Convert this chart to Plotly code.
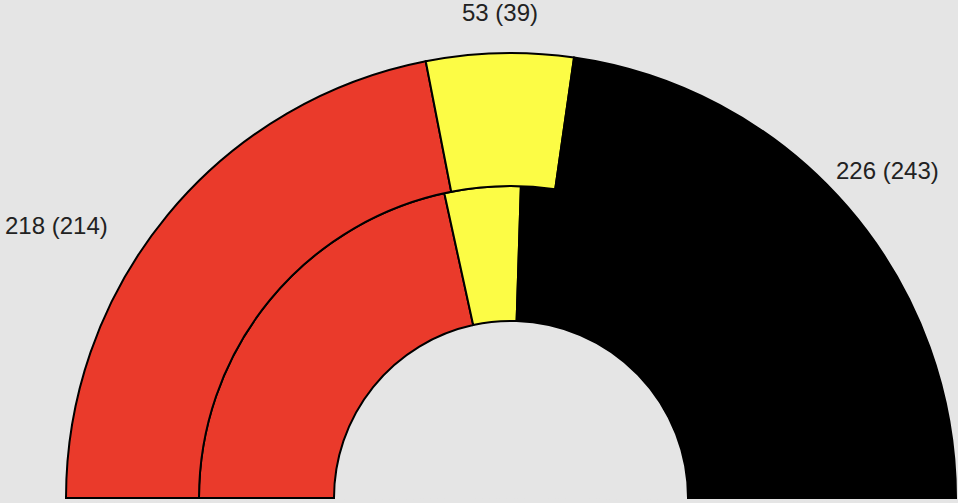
import math
import plotly.graph_objects as go

parties = ["Red", "Yellow", "Black"]
outer_seats = [218, 53, 226]
inner_seats = [214, 39, 243]
colors = ["#EA3A2B", "#FCFC45", "#000000"]

W, H = 966, 503    # slightly wider than the window; the overflow is hidden
CX, CY, R = 511, 498, 445
R_HOLE, R_MID = 177, 312
PAD = 3            # extra radial room so the outer stroke is not clipped
EXT = 0.6          # extra degrees below the horizontal so the base stroke shows


def ring(values, base, thickness):
    total = sum(values)
    widths = [v / total * 180 for v in values]
    thetas, acc = [], 0
    for w in widths:
        thetas.append(acc + w / 2)
        acc += w
    return go.Barpolar(
        theta=thetas, width=widths, r=[thickness] * len(values), base=base,
        marker=dict(color=colors, line=dict(color="#000000", width=2)),
        hoverinfo="skip", showlegend=False,
    )


fig = go.Figure()
fig.add_trace(ring(inner_seats, R_HOLE, R_MID - R_HOLE))
fig.add_trace(ring(outer_seats, R_MID, R - R_MID))

RX = R + PAD
below = RX * math.sin(math.radians(EXT))
bg = "#E5E5E5"
fig.update_layout(
    width=W, height=H,
    margin=dict(l=0, r=0, t=0, b=0),
    paper_bgcolor=bg, plot_bgcolor=bg,
    polar=dict(
        domain=dict(x=[(CX - RX) / W, (CX + RX) / W],
                    y=[max(0, (H - CY - below) / H), (H - CY + RX) / H]),
        sector=[-EXT, 180 + EXT],
        bgcolor=bg,
        radialaxis=dict(range=[0, RX], visible=False, showgrid=False),
        angularaxis=dict(rotation=180, direction="clockwise", visible=False,
                         showgrid=False),
        bargap=0,
    ),
    font=dict(family="Liberation Sans, Arial, sans-serif", size=24, color="#222222"),
)

label_pos = [(56, 225), (500, 13), (887, 170)]
for o, i, (lx, ly) in zip(outer_seats, inner_seats, label_pos):
    fig.add_annotation(text=f"{o} ({i})", x=lx / W, y=(H - ly) / H,
                       xref="paper", yref="paper", showarrow=False,
                       xanchor="center", yanchor="middle")

fig.write_html(
    "out.html",
    config={"displayModeBar": False},
    post_script="document.body.style.margin='0';document.body.style.overflow='hidden';",
)
